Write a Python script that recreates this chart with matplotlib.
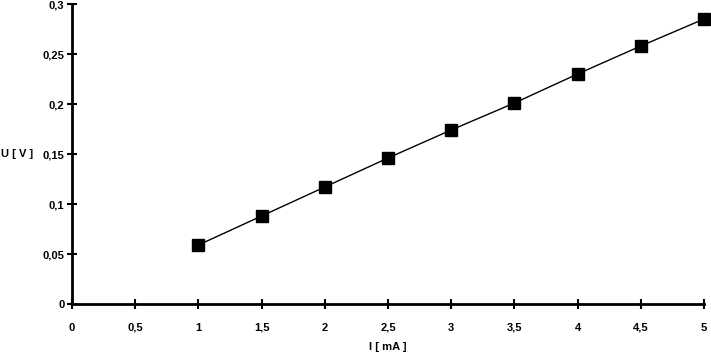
import matplotlib.pyplot as plt
from matplotlib.ticker import FuncFormatter

# measured data: current (mA) vs voltage (V)
current = [1, 1.5, 2, 2.5, 3, 3.5, 4, 4.5, 5]
voltage = [0.059, 0.088, 0.117, 0.146, 0.174, 0.201, 0.230, 0.258, 0.285]

x_ticks = [0, 0.5, 1, 1.5, 2, 2.5, 3, 3.5, 4, 4.5, 5]
y_ticks = [0, 0.05, 0.1, 0.15, 0.2, 0.25, 0.3]

plt.rcParams['font.family'] = ['Liberation Sans', 'DejaVu Sans']
plt.rcParams['font.weight'] = 'bold'
plt.rcParams['font.size'] = 8

fig = plt.figure(figsize=(7.11, 3.54), dpi=100)
W, H = 711, 354
ax = fig.add_axes([72 / W, 50 / H, 632 / W, 300 / H])

ax.plot(current, voltage, color='black', linewidth=1.0, clip_on=False,
        marker='s', markersize=9, markerfacecolor='black', markeredgecolor='black')

ax.set_xlim(0, 5)
ax.set_ylim(0, 0.3)
ax.set_xticks(x_ticks)
ax.set_yticks(y_ticks)


def comma(v, pos):
    s = ('%g' % v).replace('.', ',')
    return s


ax.xaxis.set_major_formatter(FuncFormatter(comma))
ax.yaxis.set_major_formatter(FuncFormatter(comma))

for side in ['top', 'right']:
    ax.spines[side].set_visible(False)
for side in ['left', 'bottom']:
    ax.spines[side].set_linewidth(2)

ax.tick_params(axis='both', direction='inout', length=7, width=1.5, labelsize=8)
ax.tick_params(axis='x', pad=10)
ax.tick_params(axis='y', pad=2)

fig.text(1 / W, 1 - 154 / H, 'U [ V ]', ha='left', va='center', fontsize=8, fontweight='bold')
fig.text(388 / W, 1 - 347 / H, 'I [ mA ]', ha='center', va='center', fontsize=8, fontweight='bold')

fig.savefig('out.png', dpi=100)
